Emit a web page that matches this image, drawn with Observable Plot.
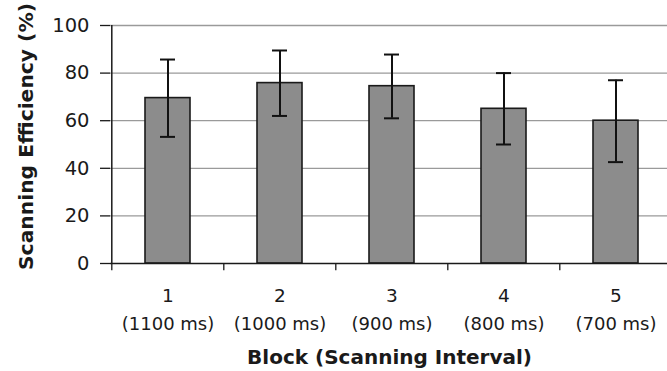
<!DOCTYPE html>
<html>
<head>
<meta charset="utf-8">
<script src="https://cdn.jsdelivr.net/npm/d3@7"></script>
<script src="https://cdn.jsdelivr.net/npm/@observablehq/plot@0.6"></script>
<style>
  html, body { margin: 0; padding: 0; background: #fff; }
</style>
</head>
<body>
<div id="chart"></div>
<script>
const blocks = ["1", "2", "3", "4", "5"];
const intervals = ["1100 ms", "1000 ms", "900 ms", "800 ms", "700 ms"];
const means = [69.5, 75.8, 74.5, 65, 60];
const errLow = [53.2, 62, 61, 50, 42.6];
const errHigh = [85.7, 89.5, 87.8, 80, 77];
const yTicks = [0, 20, 40, 60, 80, 100];
const xTitle = "Block (Scanning Interval)";
const yTitle = "Scanning Efficiency (%)";

const data = blocks.map((b, i) => ({block: b, interval: intervals[i], mean: means[i], lo: errLow[i], hi: errHigh[i]}));

const W = 667, H = 371, mL = 110, mR = -5, mT = 25, mB = 108;
const step = (W - mL - mR) / blocks.length;
const FONT = "DejaVu Sans, Verdana, sans-serif";

const chart = Plot.plot({
  width: W,
  height: H,
  marginLeft: mL,
  marginRight: mR,
  marginTop: mT,
  marginBottom: mB,
  style: {fontFamily: FONT, background: "#fff", color: "#1a1a1a", fontSize: "18px"},
  x: {domain: blocks, paddingInner: 0.6, paddingOuter: 0.3, axis: null},
  y: {domain: [0, 100], axis: null},
  marks: [
    Plot.ruleY(yTicks.filter(d => d > 0), {stroke: "#9a9a9a", strokeWidth: 1.3}),
    Plot.barY(data, {x: "block", y: "mean", fill: "#8c8c8c", stroke: "#1a1a1a", strokeWidth: 1.6}),
    Plot.ruleX(data, {x: "block", y1: "lo", y2: "hi", stroke: "#111", strokeWidth: 2}),
    Plot.tickY(data, {x: "block", y: "lo", stroke: "#111", strokeWidth: 2, insetLeft: 15, insetRight: 15}),
    Plot.tickY(data, {x: "block", y: "hi", stroke: "#111", strokeWidth: 2, insetLeft: 15, insetRight: 15}),
    Plot.ruleY([0], {stroke: "#1a1a1a", strokeWidth: 1.5}),
    Plot.ruleX(blocks, {x: d => d, dx: -step / 2, y1: 0, y2: -3, stroke: "#1a1a1a", strokeWidth: 1.3}),
    Plot.ruleX([0], {x: () => blocks[0], dx: -step / 2, y1: 0, y2: 100, stroke: "#1a1a1a", strokeWidth: 1.5}),
    Plot.axisY({ticks: yTicks, tickSize: 10, tickFormat: () => "", stroke: "#1a1a1a", strokeWidth: 1.3, label: null}),
    Plot.text(yTicks, {y: d => d, frameAnchor: "left", textAnchor: "end", dx: -21, text: d => String(d), fontSize: 19.5, fill: "#1a1a1a"}),
    Plot.text(data, {x: "block", frameAnchor: "bottom", dy: 38, text: "block", fontSize: 18.5, fill: "#1a1a1a"}),
    Plot.text(data, {x: "block", frameAnchor: "bottom", dy: 66, text: d => "(" + d.interval + ")", fontSize: 18, fill: "#1a1a1a"}),
    Plot.text([xTitle], {frameAnchor: "bottom", dx: -2, dy: 100, text: d => d, fontSize: 20, fontWeight: "bold", fill: "#1a1a1a"}),
    Plot.text([yTitle], {frameAnchor: "left", textAnchor: "middle", dx: -84, dy: -8, text: d => d, rotate: -90, fontSize: 20.3, fontWeight: "bold", fill: "#1a1a1a"})
  ]
});
document.getElementById("chart").appendChild(chart);
</script>
</body>
</html>
